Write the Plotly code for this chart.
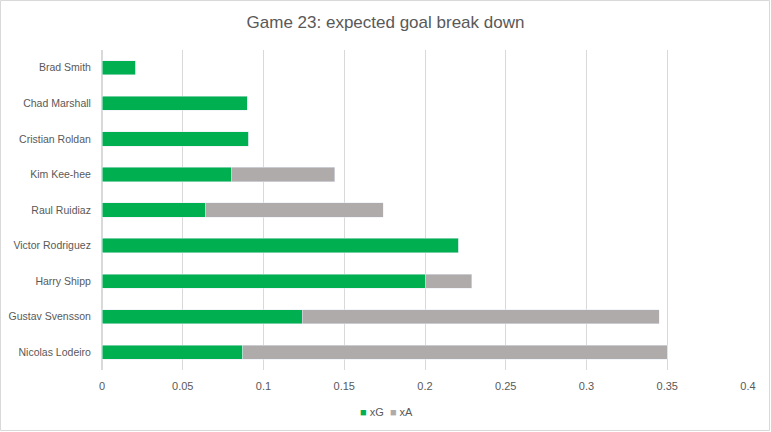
import plotly.graph_objects as go

players = ['Brad Smith', 'Chad Marshall', 'Cristian Roldan', 'Kim Kee-hee',
           'Raul Ruidiaz', 'Victor Rodriguez', 'Harry Shipp',
           'Gustav Svensson', 'Nicolas Lodeiro']
xg = [0.021, 0.090, 0.091, 0.080, 0.064, 0.221, 0.200, 0.124, 0.087]
xa = [0.000, 0.000, 0.000, 0.064, 0.110, 0.000, 0.029, 0.221, 0.263]
x_ticks = [0, 0.05, 0.1, 0.15, 0.2, 0.25, 0.3, 0.35, 0.4]

GREEN, GREY = '#00B050', '#AFABAB'
W, H = 771, 432
M = dict(l=102, r=23, t=50, b=62)

fig = go.Figure()
fig.add_trace(go.Bar(y=players, x=xg, name='xG', orientation='h',
                     marker_color=GREEN))
fig.add_trace(go.Bar(y=players, x=xa, name='xA', orientation='h',
                     marker_color=GREY))

# light outer border around the whole chart
pw = W - M['l'] - M['r']
ph = H - M['t'] - M['b']
fig.add_shape(type='rect', xref='paper', yref='paper', layer='below',
              x0=-(M['l'] - 0.5) / pw, x1=1 + (M['r'] - 1.5) / pw,
              y0=-(M['b'] - 1.5) / ph, y1=1 + (M['t'] - 0.5) / ph,
              line=dict(color='#D9D9D9', width=1))

# Excel-style compact legend under the axis
fig.add_annotation(
    xref='paper', yref='paper', x=0.44, y=-42 / ph, yanchor='middle',
    showarrow=False, font=dict(size=11, color='#595959'),
    text=(f'<span style="color:{GREEN}">■</span> xG  '
          f'<span style="color:{GREY}">■</span> xA'))

fig.update_layout(
    width=W, height=H, margin=M,
    barmode='stack', bargap=0.6, showlegend=False,
    plot_bgcolor='white', paper_bgcolor='white',
    font=dict(family='Liberation Sans, Arial, sans-serif', size=10.5, color='#595959'),
    title=dict(text='Game 23: expected goal break down', x=0.5, xref='container',
               xanchor='center', y=1 - 22 / H, yanchor='middle',
               font=dict(size=17, color='#595959')),
    xaxis=dict(range=[0, 0.4], tickvals=x_ticks,
               ticktext=[f'{v:g}' for v in x_ticks],
               showgrid=True, gridcolor='#D9D9D9', gridwidth=1,
               zeroline=True, zerolinecolor='#D9D9D9', showline=False,
               ticks='outside', ticklen=6, tickcolor='white',
               tickfont=dict(size=11), automargin=False),
    yaxis=dict(autorange='reversed', showgrid=False, showline=False,
               ticks='outside', ticklen=8, tickcolor='white',
               automargin=False),
)

# drop the default page margin so the chart sits at the window origin
fig.write_html('out.html', config={'displayModeBar': False},
               post_script="document.body.style.margin='0';")
